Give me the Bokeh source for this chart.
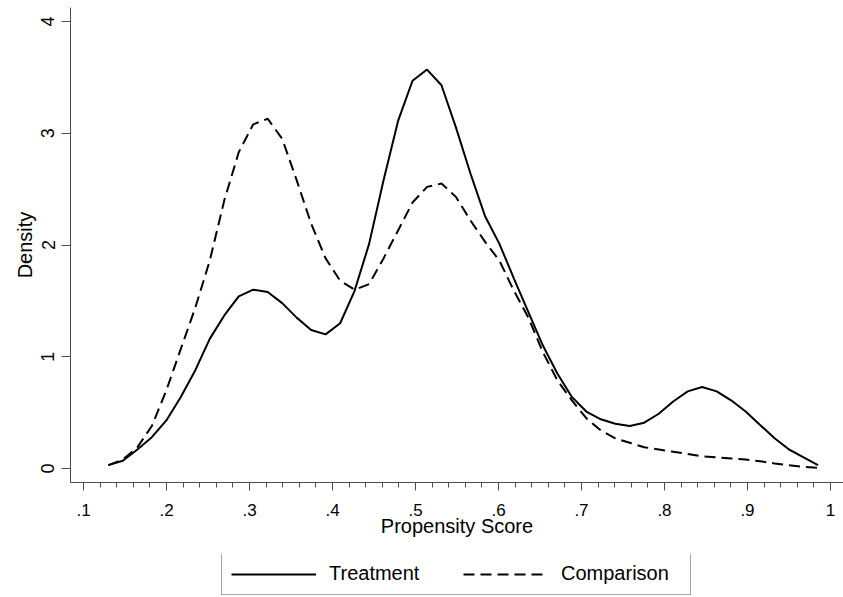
from bokeh.plotting import figure
from bokeh.models import FixedTicker, Legend, LegendItem, Range1d
from bokeh.layouts import column
from bokeh.embed import file_html
from bokeh.resources import INLINE

# ---- data ----
score = [0.1300, 0.1474, 0.1649, 0.1823, 0.1998, 0.2172, 0.2347, 0.2521, 0.2696, 0.2870,
         0.3045, 0.3219, 0.3394, 0.3568, 0.3743, 0.3917, 0.4092, 0.4266, 0.4441, 0.4615,
         0.4790, 0.4964, 0.5139, 0.5313, 0.5488, 0.5662, 0.5837, 0.6011, 0.6186, 0.6360,
         0.6535, 0.6709, 0.6884, 0.7058, 0.7233, 0.7407, 0.7582, 0.7756, 0.7931, 0.8105,
         0.8280, 0.8454, 0.8629, 0.8803, 0.8978, 0.9152, 0.9327, 0.9501, 0.9676, 0.9850]

treatment = [0.03, 0.07, 0.17, 0.28, 0.43, 0.64, 0.88, 1.16, 1.37, 1.54,
             1.60, 1.58, 1.48, 1.35, 1.24, 1.20, 1.30, 1.59, 2.01, 2.58,
             3.11, 3.47, 3.57, 3.43, 3.05, 2.64, 2.26, 2.01, 1.70, 1.40,
             1.10, 0.85, 0.64, 0.51, 0.44, 0.40, 0.38, 0.41, 0.49, 0.60,
             0.69, 0.73, 0.69, 0.61, 0.51, 0.39, 0.27, 0.17, 0.10, 0.03]

comparison = [0.03, 0.08, 0.19, 0.38, 0.70, 1.07, 1.44, 1.86, 2.40, 2.83,
              3.08, 3.13, 2.95, 2.58, 2.19, 1.88, 1.68, 1.60, 1.65, 1.88,
              2.13, 2.38, 2.52, 2.55, 2.43, 2.22, 2.03, 1.86, 1.59, 1.35,
              1.04, 0.79, 0.61, 0.45, 0.34, 0.27, 0.23, 0.19, 0.17, 0.15,
              0.13, 0.11, 0.10, 0.09, 0.08, 0.065, 0.045, 0.03, 0.015, 0.005]

series_labels = ["Treatment", "Comparison"]

x_ticks = [0.1, 0.2, 0.3, 0.4, 0.5, 0.6, 0.7, 0.8, 0.9, 1.0]
x_tick_labels = [".1", ".2", ".3", ".4", ".5", ".6", ".7", ".8", ".9", "1"]
x_minor_ticks = [0.12, 0.14, 0.16, 0.18, 0.22, 0.24, 0.26, 0.28, 0.32, 0.34, 0.36, 0.38,
                 0.42, 0.44, 0.46, 0.48, 0.52, 0.54, 0.56, 0.58, 0.62, 0.64, 0.66, 0.68,
                 0.72, 0.74, 0.76, 0.78, 0.82, 0.84, 0.86, 0.88, 0.92, 0.94, 0.96, 0.98]
y_ticks = [0, 1, 2, 3, 4]

FONT = "Liberation Sans"
AXIS_COLOR = "#4d4d4d"
DASH = "11 6"

# ---- main plot ----
p = figure(width=843, height=554,
           x_range=Range1d(0.0843, 1.0157), y_range=Range1d(-0.1253, 4.1253),
           output_backend="svg", toolbar_location=None,
           min_border_left=70, min_border_right=0, min_border_top=7, min_border_bottom=72,
           background_fill_color="white", border_fill_color="white")
p.outline_line_color = None
p.xgrid.grid_line_color = None
p.ygrid.grid_line_color = None

p.line(score, treatment, line_color="black", line_width=2)
p.line(score, comparison, line_color="black", line_width=2, line_dash=DASH)

# x axis
xa = p.xaxis[0]
xa.ticker = FixedTicker(ticks=x_ticks, minor_ticks=x_minor_ticks)
xa.major_label_overrides = dict(zip(x_ticks, x_tick_labels))
xa.axis_label = "Propensity Score"
xa.axis_line_color = AXIS_COLOR
xa.major_tick_line_color = AXIS_COLOR
xa.minor_tick_line_color = AXIS_COLOR
xa.major_tick_in = 0
xa.major_tick_out = 8
xa.minor_tick_in = 0
xa.minor_tick_out = 5
xa.major_label_standoff = 13
xa.major_label_text_font = FONT
xa.major_label_text_font_size = "17px"
xa.major_label_text_color = "black"
xa.axis_label_text_font = FONT
xa.axis_label_text_font_size = "20px"
xa.axis_label_text_font_style = "normal"
xa.axis_label_text_color = "black"
xa.axis_label_standoff = -4

# y axis
ya = p.yaxis[0]
ya.ticker = FixedTicker(ticks=y_ticks, minor_ticks=[])
ya.axis_label = "Density"
ya.axis_line_color = AXIS_COLOR
ya.major_tick_line_color = AXIS_COLOR
ya.minor_tick_line_color = None
ya.major_tick_in = 0
ya.major_tick_out = 9
ya.major_label_orientation = "vertical"
ya.major_label_standoff = 7
ya.major_label_text_font = FONT
ya.major_label_text_font_size = "18px"
ya.major_label_text_color = "black"
ya.axis_label_text_font = FONT
ya.axis_label_text_font_size = "20px"
ya.axis_label_text_font_style = "normal"
ya.axis_label_text_color = "black"
ya.axis_label_standoff = 3

# ---- legend strip below the plot (its lines lie outside its view) ----
lg = figure(width=843, height=43, x_range=Range1d(-3, -2), y_range=Range1d(-3, -2),
            output_backend="svg", toolbar_location=None,
            x_axis_location=None, y_axis_location=None,
            min_border_left=0, min_border_right=0, min_border_top=0, min_border_bottom=0,
            background_fill_color="white", border_fill_color="white")
lg.outline_line_color = None
lg.xgrid.grid_line_color = None
lg.ygrid.grid_line_color = None
k_t = lg.line(score, treatment, line_color="black", line_width=2)
k_c = lg.line(score, comparison, line_color="black", line_width=2, line_dash=DASH)

legend = Legend(items=[LegendItem(label=series_labels[0], renderers=[k_t]),
                       LegendItem(label=series_labels[1], renderers=[k_c])],
                orientation="horizontal", location=(151, 2),
                glyph_width=85, glyph_height=20, label_standoff=13,
                label_width=120, spacing=14, padding=9, margin=0,
                label_text_font=FONT, label_text_font_size="20px",
                label_text_color="black",
                border_line_color=AXIS_COLOR, border_line_width=1,
                background_fill_color="white", background_fill_alpha=1.0)
lg.add_layout(legend, "center")

layout = column(p, lg, spacing=0)
open("out.html", "w").write(file_html(layout, INLINE))
